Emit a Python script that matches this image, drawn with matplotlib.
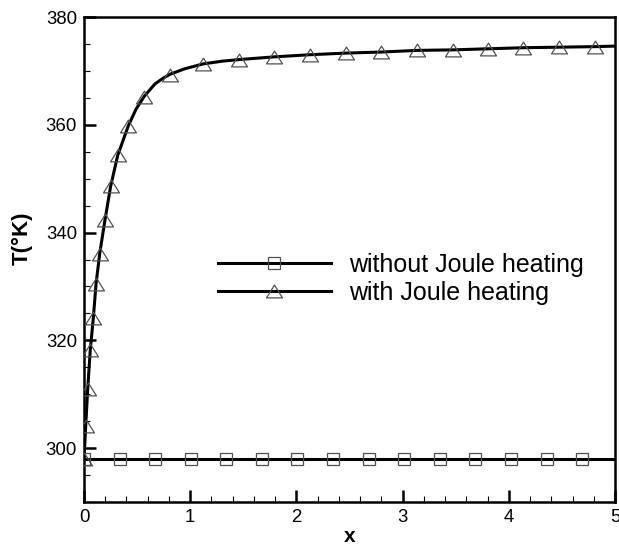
import numpy as np
import matplotlib.pyplot as plt
from matplotlib.path import Path
from matplotlib.ticker import MultipleLocator

plt.rcParams['font.family'] = ['Liberation Sans', 'DejaVu Sans']

# without Joule heating: constant wall temperature
x_nojoule = [0.0, 0.335, 0.67, 1.005, 1.34, 1.675, 2.01, 2.345, 2.68, 3.015,
             3.35, 3.685, 4.02, 4.355, 4.69]
T_nojoule = [298.0] * len(x_nojoule)
x_nojoule_line = [0.0, 5.0]
T_nojoule_line = [298.0, 298.0]

# with Joule heating: marker points
x_joule = [0.0, 0.016, 0.035, 0.059, 0.088, 0.113, 0.148, 0.198, 0.251, 0.317,
           0.417, 0.568, 0.813, 1.123, 1.46, 1.79, 2.128, 2.464, 2.80, 3.133,
           3.47, 3.80, 4.137, 4.475, 4.81]
T_joule = [298.0, 304.1, 311.0, 318.2, 324.2, 330.4, 336.1, 342.4, 348.6, 354.3,
           359.8, 365.2, 369.3, 371.3, 372.1, 372.6, 373.0, 373.3, 373.5, 373.8,
           373.9, 374.1, 374.3, 374.4, 374.5]

# with Joule heating: curve points (denser around the knee)
x_joule_line = [0.0, 0.016, 0.035, 0.059, 0.088, 0.113, 0.148, 0.198, 0.251, 0.317,
                0.417, 0.49, 0.568, 0.669, 0.75, 0.813, 0.95, 1.123, 1.3, 1.46,
                1.79, 2.128, 2.464, 2.80, 3.133, 3.47, 3.80, 4.137, 4.475, 4.81, 5.0]
T_joule_line = [298.0, 304.1, 311.0, 318.2, 324.2, 330.4, 336.1, 342.4, 348.6, 354.3,
                359.8, 362.9, 365.3, 367.6, 368.7, 369.4, 370.4, 371.3, 371.8, 372.1,
                372.6, 373.0, 373.3, 373.5, 373.8, 373.9, 374.1, 374.3, 374.4, 374.5, 374.6]

# slightly flattened open triangle
tri = Path([(0, 0.8), (-1, -0.8), (1, -0.8), (0, 0.8)], closed=True)
mk_edge = '#505050'

fig = plt.figure(figsize=(6.19, 5.47), dpi=100)
ax = fig.add_axes([84 / 619, 1 - 502 / 547, 531 / 619, 485 / 547])

ax.plot(x_nojoule_line, T_nojoule_line, color='black', lw=2.2, zorder=2)
ax.plot(x_nojoule, T_nojoule, ls='none', marker='s', ms=9, mfc='none',
        mec=mk_edge, mew=0.9, zorder=3)
ax.plot(x_joule_line, T_joule_line, color='black', lw=2.2, zorder=2)
ax.plot(x_joule, T_joule, ls='none', marker=tri, ms=11.5, mfc='none',
        mec=mk_edge, mew=0.9, zorder=3)

# legend handles
h1, = ax.plot([], [], color='black', lw=2.2, marker='s', ms=9, mfc='none',
              mec=mk_edge, mew=0.9)
h2, = ax.plot([], [], color='black', lw=2.2, marker=tri, ms=11.5, mfc='none',
              mec=mk_edge, mew=0.9)
leg = fig.legend([h1, h2], ['without Joule heating', 'with Joule heating'],
                 loc='center left', bbox_to_anchor=(218 / 619, 1 - 279 / 547),
                 frameon=False, fontsize=18, handlelength=4.5, handletextpad=0.76,
                 labelspacing=0.15, borderpad=0, borderaxespad=0)

ax.set_xlim(0, 5)
ax.set_ylim(290, 380)
ax.xaxis.set_major_locator(MultipleLocator(1))
ax.xaxis.set_minor_locator(MultipleLocator(0.2))
ax.yaxis.set_minor_locator(MultipleLocator(5))
ax.set_yticks([300, 320, 340, 360, 380])

ax.tick_params(which='both', direction='in', top=False, right=False, labelsize=13.4)
ax.tick_params(which='major', length=8.5, width=1.8, pad=5)
ax.tick_params(which='minor', length=4.3, width=0.8)
for s in ax.spines.values():
    s.set_linewidth(1.8)

ax.set_xlabel('x', fontsize=15, fontweight='bold', labelpad=1)
ax.set_ylabel('T(°K)', fontsize=16, fontweight='bold')
ax.yaxis.set_label_coords(-0.096, 0.544)

fig.savefig('out.png', dpi=100)
